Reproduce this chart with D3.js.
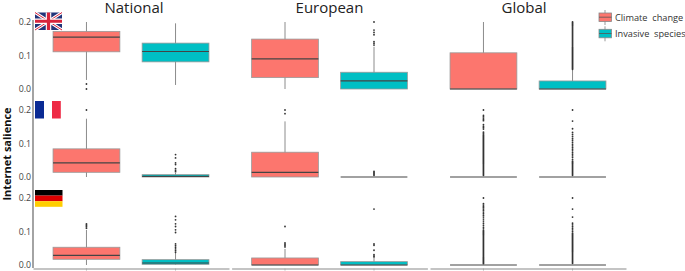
<!DOCTYPE html>
<html>
<head>
<meta charset="utf-8">
<script src="https://cdnjs.cloudflare.com/ajax/libs/d3/7.8.5/d3.min.js"></script>
<style>
body { margin: 0; background: #fff; }
svg { display: block; font-family: "Open Sans", sans-serif; }
</style>
</head>
<body>
<div id="chart"></div>
<script>
var countries = ["UK", "France", "Germany"];
var scopes = ["National", "European", "Global"];
var species = ["Climate  change", "Invasive  species"];
var yTicks = [0, 0.1, 0.2];

// order: country > scope > species
var q1 =          [.111, .081, .034, 0, 0, 0,   .014, 0, 0, 0, 0, 0,   .017, .002, 0, 0, 0, 0];
var medians =     [.155, .112, .090, .024, 0, 0,   .042, .002, .014, 0, 0, 0,   .029, .006, 0, 0, 0, 0];
var q3 =          [.172, .137, .149, .050, .108, .024,   .084, .007, .074, 0, 0, 0,   .053, .016, .021, .010, 0, 0];
var whiskerLow =  [.027, .012, 0, 0, 0, 0,   0, 0, 0, 0, 0, 0,   0, 0, 0, 0, 0, 0];
var whiskerHigh = [.200, .196, .200, .126, .200, .057,   .174, .012, .166, 0, 0, 0,   .105, .036, .048, .021, 0, 0];
var outliers = [
    [.015, 0],
    [],
    [],
    [.2, .176, .169, .162, .141, .136, .131],
    [],
    [.2, .197, .194, .191, .188, .185, .182, .179, .176, .173, .17, .167, .164, .161, .158, .155, .152, .149, .146, .143, .14, .137, .134, .131, .128, .125, .122, .119, .116, .113, .11, .107, .104, .101, .098, .095, .092, .089, .086, .083, .08, .077, .074, .071, .068, .065, .062, .059],
    [.2],
    [.067, .057, .042, .037, .025, .02, .016],
    [.2, .189],
    [.017, .014, .011, .008, .005],
    [.2, .184, .18, .176, .172, .168, .156, .151, .147, .143, .134, .131, .128, .125, .122, .119, .116, .113, .11, .107, .104, .101, .098, .095, .092, .089, .086, .083, .08, .077, .074, .071, .068, .065, .062, .059, .056, .053, .05, .047, .044, .041, .038, .035, .032, .029, .026, .023, .02, .017, .014, .011, .008, .005],
    [.2, .167, .144, .133, .127, .121, .115, .11, .104, .098, .093, .088, .083, .078, .073, .068, .063, .058, .052, .047, .044, .041, .038, .035, .032, .029, .026, .023, .02, .017, .014, .011, .008, .005],
    [.123, .12, .117, .114, .11],
    [.145, .135, .123, .115, .105, .097, .063, .058, .053, .048, .043, .038],
    [.115, .066, .062, .058, .054],
    [.167, .063, .059, .044, .031, .027, .024],
    [.2, .183, .179, .175, .171, .167, .163, .158, .153, .148, .143, .137, .131, .125, .119, .113, .108, .103, .1, .097, .094, .091, .088, .085, .082, .079, .076, .073, .07, .067, .064, .061, .058, .055, .052, .049, .046, .043, .04, .037, .034, .031, .028, .025, .022, .019, .016, .013, .01, .007, .004],
    [.2, .167, .143, .125, .12, .115, .11, .105, .1, .095, .092, .089, .086, .083, .08, .077, .074, .071, .068, .065, .062, .059, .056, .053, .05, .047, .044, .041, .038, .035, .032, .029, .026, .023, .02, .017, .014, .011, .008, .005]
];

var w = 685;
var h = 271;
var colors = d3.scaleOrdinal().domain(species).range(["#FC766E", "#00BFC4"]);

var svg = d3.select("#chart").append("svg").attr("width", w).attr("height", h);

// one y scale per country row
var rowZero = [89, 177, 265];
var yScales = rowZero.map(function (z) {
    return d3.scaleLinear().domain([0, 0.2]).range([z, z - 67]);
});

// one band scale per scope column
var panelRange = [[33, 229], [231.6, 427.4], [430, 626]];
var xScales = panelRange.map(function (r) {
    return d3.scaleBand().domain(species).range(r).paddingInner(0.25).paddingOuter(0.225);
});

// left axis line runs through all rows
svg.append("line").attr("x1", 33).attr("x2", 33).attr("y1", 20).attr("y2", 268)
    .attr("stroke", "#9a9a9a").attr("stroke-width", 1.8);

yScales.forEach(function (y) {
    var axis = svg.append("g").attr("transform", "translate(32,0)")
        .call(d3.axisLeft(y).tickValues(yTicks).tickFormat(d3.format(".1f")).tickSize(0).tickPadding(1));
    axis.select(".domain").remove();
    axis.selectAll("text").attr("font-size", "8.8px").attr("font-family", "'Open Sans', sans-serif").attr("fill", "#444");
});

xScales.forEach(function (x) {
    var axis = svg.append("g").attr("transform", "translate(0,268.5)")
        .call(d3.axisBottom(x).tickFormat("").tickSize(2).tickSizeOuter(0));
    axis.select(".domain").attr("stroke", "#8a8a8a").attr("stroke-width", 1.2);
    axis.selectAll(".tick line").attr("stroke", "#aaa");
});

// flatten arrays into one record per box
var boxes = [];
countries.forEach(function (c, ci) {
    scopes.forEach(function (s, si) {
        species.forEach(function (sp, pi) {
            var i = ci * 6 + si * 2 + pi;
            boxes.push({
                row: ci, col: si, species: sp,
                q1: q1[i], median: medians[i], q3: q3[i],
                low: whiskerLow[i], high: whiskerHigh[i], outliers: outliers[i]
            });
        });
    });
});

var groups = svg.selectAll("g.box").data(boxes).enter().append("g").attr("class", "box");

groups.each(function (d) {
    var g = d3.select(this);
    var x = xScales[d.col];
    var y = yScales[d.row];
    var cx = x(d.species) + x.bandwidth() / 2;

    g.append("line").attr("x1", cx).attr("x2", cx).attr("y1", y(d.low)).attr("y2", y(d.high))
        .attr("stroke", "#8c8c8c").attr("stroke-width", 1);

    g.selectAll("circle").data(d.outliers).enter().append("circle")
        .attr("cx", cx)
        .attr("cy", function (v) { return y(v); })
        .attr("r", 0.9)
        .attr("fill", "#333");

    if (d.q3 > d.q1) {
        g.append("rect")
            .attr("x", x(d.species))
            .attr("y", y(d.q3))
            .attr("width", x.bandwidth())
            .attr("height", y(d.q1) - y(d.q3))
            .attr("fill", colors(d.species))
            .attr("stroke", "#999")
            .attr("stroke-width", 0.8);
    }

    g.append("line")
        .attr("x1", x(d.species)).attr("x2", x(d.species) + x.bandwidth())
        .attr("y1", y(d.median)).attr("y2", y(d.median))
        .attr("stroke", "#444").attr("stroke-width", 1.2);
});

// scope titles
svg.selectAll("text.scope").data(scopes).enter().append("text")
    .attr("class", "scope")
    .attr("x", function (d, i) { return [134, 329.5, 524][i]; })
    .attr("y", 12.5)
    .attr("text-anchor", "middle")
    .attr("font-size", "15px")
    .attr("fill", "#222")
    .text(function (d) { return d; });

svg.append("text")
    .attr("transform", "translate(11,154) rotate(-90)")
    .attr("text-anchor", "middle")
    .attr("font-size", "11px")
    .attr("font-weight", "bold")
    .attr("fill", "#111")
    .text("Internet salience");

// legend
var legend = svg.selectAll("g.legend").data(species).enter().append("g")
    .attr("class", "legend")
    .attr("transform", function (d, i) { return "translate(599," + (13 + i * 16.3) + ")"; });

legend.append("line").attr("x1", 6).attr("x2", 6).attr("y1", -3).attr("y2", 12).attr("stroke", "#999");
legend.append("rect").attr("width", 12.5).attr("height", 8.5)
    .attr("fill", function (d) { return colors(d); })
    .attr("stroke", "#888").attr("stroke-width", 0.8);
legend.append("line").attr("x1", 0).attr("x2", 12.5).attr("y1", 4.2).attr("y2", 4.2).attr("stroke", "#555").attr("stroke-width", 0.8);
legend.append("text")
    .attr("x", 16)
    .attr("y", 8)
    .attr("font-size", "9.2px")
    .attr("fill", "#333")
    .style("white-space", "pre")
    .text(function (d) { return d; });

// flags, drawn by hand
var uk = svg.append("g").attr("transform", "translate(35,12.5)");
uk.append("rect").attr("width", 27).attr("height", 17.5).attr("fill", "#22347a");
uk.append("path").attr("d", "M0,0L27,17.5M27,0L0,17.5").attr("stroke", "#fff").attr("stroke-width", 3.2);
uk.append("path").attr("d", "M0,0L27,17.5M27,0L0,17.5").attr("stroke", "#d8243c").attr("stroke-width", 1);
uk.append("path").attr("d", "M13.5,0V17.5M0,8.75H27").attr("stroke", "#fff").attr("stroke-width", 5.5);
uk.append("path").attr("d", "M13.5,0V17.5M0,8.75H27").attr("stroke", "#d8243c").attr("stroke-width", 3.2);

var fr = svg.append("g").attr("transform", "translate(35,101)");
fr.append("rect").attr("width", 9).attr("height", 17.5).attr("fill", "#0a2a94");
fr.append("rect").attr("x", 17).attr("width", 8.8).attr("height", 17.5).attr("fill", "#ee2a45");

var de = svg.append("g").attr("transform", "translate(35,190)");
de.append("rect").attr("width", 27.5).attr("height", 5.6).attr("fill", "#000");
de.append("rect").attr("y", 5.6).attr("width", 27.5).attr("height", 5.6).attr("fill", "#dd0000");
de.append("rect").attr("y", 11.2).attr("width", 27.5).attr("height", 5.6).attr("fill", "#ffce00");
</script>
</body>
</html>
